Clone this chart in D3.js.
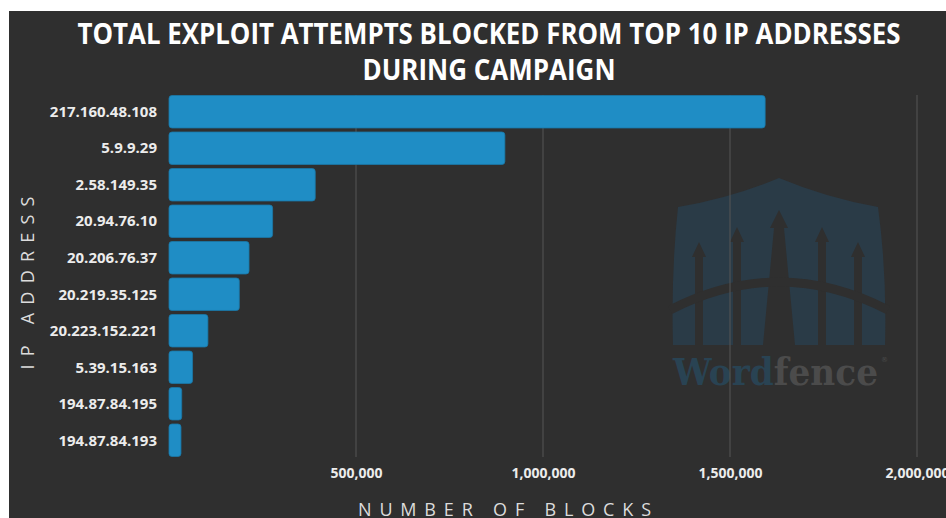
<!DOCTYPE html>
<html>
<head>
<meta charset="utf-8">
<script src="https://cdnjs.cloudflare.com/ajax/libs/d3/7.8.5/d3.min.js"></script>
<style>
  html, body { margin: 0; padding: 0; background: #fff; }
  svg { display: block; }
</style>
</head>
<body>
<div id="chart"></div>
<script>
// IP addresses and number of blocked exploit attempts
const ipAddresses = [
  "217.160.48.108", "5.9.9.29", "2.58.149.35", "20.94.76.10", "20.206.76.37",
  "20.219.35.125", "20.223.152.221", "5.39.15.163", "194.87.84.195", "194.87.84.193"
];
const blocks = [1594000, 898000, 391000, 277000, 214000, 188000, 104000, 63000, 34000, 32000];
const xTicks = [500000, 1000000, 1500000, 2000000];
const titleLines = ["TOTAL EXPLOIT ATTEMPTS BLOCKED FROM TOP 10 IP ADDRESSES", "DURING CAMPAIGN"];

const W = 946, H = 518;
const bg = "#2f2f2f";
const data = ipAddresses.map((ip, i) => ({ ip, value: blocks[i] }));

const svg = d3.select("#chart").append("svg")
  .attr("width", W)
  .attr("height", H);

// dark panel
svg.append("rect")
  .attr("x", 9).attr("y", 11)
  .attr("width", W - 9).attr("height", H - 11)
  .attr("fill", bg);

// title
svg.append("text")
  .attr("x", 489).attr("y", 44)
  .attr("text-anchor", "middle")
  .attr("textLength", 823)
  .attr("lengthAdjust", "spacingAndGlyphs")
  .attr("fill", "#ffffff")
  .style("font-family", "'Open Sans', sans-serif")
  .style("font-weight", 700)
  .style("font-size", "29px")
  .text(titleLines[0]);

svg.append("text")
  .attr("x", 489).attr("y", 80)
  .attr("text-anchor", "middle")
  .attr("textLength", 253)
  .attr("lengthAdjust", "spacingAndGlyphs")
  .attr("fill", "#ffffff")
  .style("font-family", "'Open Sans', sans-serif")
  .style("font-weight", 700)
  .style("font-size", "29px")
  .text(titleLines[1]);

// scales
const x = d3.scaleLinear()
  .domain([0, 2000000])
  .range([169, 917]);

const y = d3.scaleBand()
  .domain(ipAddresses)
  .range([95.5, 456.5])
  .paddingInner(0.11)
  .paddingOuter(0);

// watermark logo (decoration, drawn under the grid)
const logo = svg.append("g")
  .attr("transform", "translate(673,178)");

logo.append("path")
  .attr("d", "M5,29 Q58,20 106,0 Q154,20 205,29 Q214,95 212,167 L0,167 Q-2,95 5,29 Z")
  .attr("fill", "#2a3b47");

const spears = [
  { cx: 26, tip: 64 }, { cx: 64, tip: 49 }, { cx: 149, tip: 49 }, { cx: 185, tip: 64 }
];
spears.forEach(s => {
  logo.append("path")
    .attr("d", `M${s.cx},${s.tip} L${s.cx + 7},${s.tip + 15} L${s.cx + 4},${s.tip + 15} L${s.cx + 4},167 L${s.cx - 4},167 L${s.cx - 4},${s.tip + 15} L${s.cx - 7},${s.tip + 15} Z`)
    .attr("fill", bg);
});
logo.append("path")
  .attr("d", "M106,32 L115,50 L111,50 L122,167 L90,167 L101,50 L97,50 Z")
  .attr("fill", bg);
logo.append("path")
  .attr("d", "M-3,132 Q106,76 215,132")
  .attr("fill", "none")
  .attr("stroke", bg)
  .attr("stroke-width", 9);

const logoText = logo.append("text")
  .attr("x", 0).attr("y", 207)
  .attr("textLength", 205)
  .attr("lengthAdjust", "spacingAndGlyphs")
  .style("font-family", "'DejaVu Serif', serif")
  .style("font-weight", 700)
  .style("font-size", "38px");
logoText.append("tspan").attr("fill", "#294353").text("Word");
logoText.append("tspan").attr("fill", "#4b4b4b").text("fence");
logo.append("text")
  .attr("x", 208).attr("y", 184)
  .attr("fill", "#4b4b4b")
  .style("font-family", "'DejaVu Sans', sans-serif")
  .style("font-size", "7px")
  .text("®");

// grid lines
svg.append("g")
  .selectAll("line")
  .data(xTicks)
  .join("line")
  .attr("x1", d => x(d)).attr("x2", d => x(d))
  .attr("y1", 95).attr("y2", 457)
  .attr("stroke", "#575757")
  .attr("stroke-width", 1);

// bars
svg.append("g")
  .selectAll("rect")
  .data(data)
  .join("rect")
  .attr("x", x(0))
  .attr("y", d => y(d.ip))
  .attr("width", d => x(d.value) - x(0))
  .attr("height", y.bandwidth())
  .attr("rx", 3)
  .attr("fill", "#1f8dc5")
  .attr("stroke", "#1b78a8")
  .attr("stroke-width", 0.8);

// y axis labels
const yAxis = svg.append("g")
  .attr("transform", "translate(157,0)")
  .call(d3.axisLeft(y).tickSize(0).tickPadding(0));
yAxis.select(".domain").remove();
yAxis.selectAll("text")
  .attr("fill", "#ececec")
  .attr("dy", "0.35em")
  .style("font-family", "'Open Sans', sans-serif")
  .style("font-weight", 700)
  .style("font-size", "15px");

// x axis labels
const xAxis = svg.append("g")
  .attr("transform", "translate(0,478)")
  .call(d3.axisBottom(x).tickValues(xTicks).tickSize(0).tickPadding(0).tickFormat(d3.format(",")));
xAxis.select(".domain").remove();
xAxis.selectAll("text")
  .attr("fill", "#ececec")
  .attr("dy", 0)
  .style("font-family", "'Open Sans', sans-serif")
  .style("font-weight", 700)
  .style("font-size", "14px");

// axis titles
svg.append("text")
  .attr("x", 358).attr("y", 516)
  .attr("textLength", 293)
  .attr("lengthAdjust", "spacing")
  .attr("fill", "#dcdcdc")
  .style("font-family", "'Open Sans', sans-serif")
  .style("font-weight", 400)
  .style("font-size", "18px")
  .text("NUMBER OF BLOCKS");

svg.append("text")
  .attr("transform", "translate(34,283) rotate(-90)")
  .attr("text-anchor", "middle")
  .attr("textLength", 173)
  .attr("lengthAdjust", "spacing")
  .attr("fill", "#dcdcdc")
  .style("font-family", "'Open Sans', sans-serif")
  .style("font-weight", 400)
  .style("font-size", "18px")
  .text("IP ADDRESS");
</script>
</body>
</html>
